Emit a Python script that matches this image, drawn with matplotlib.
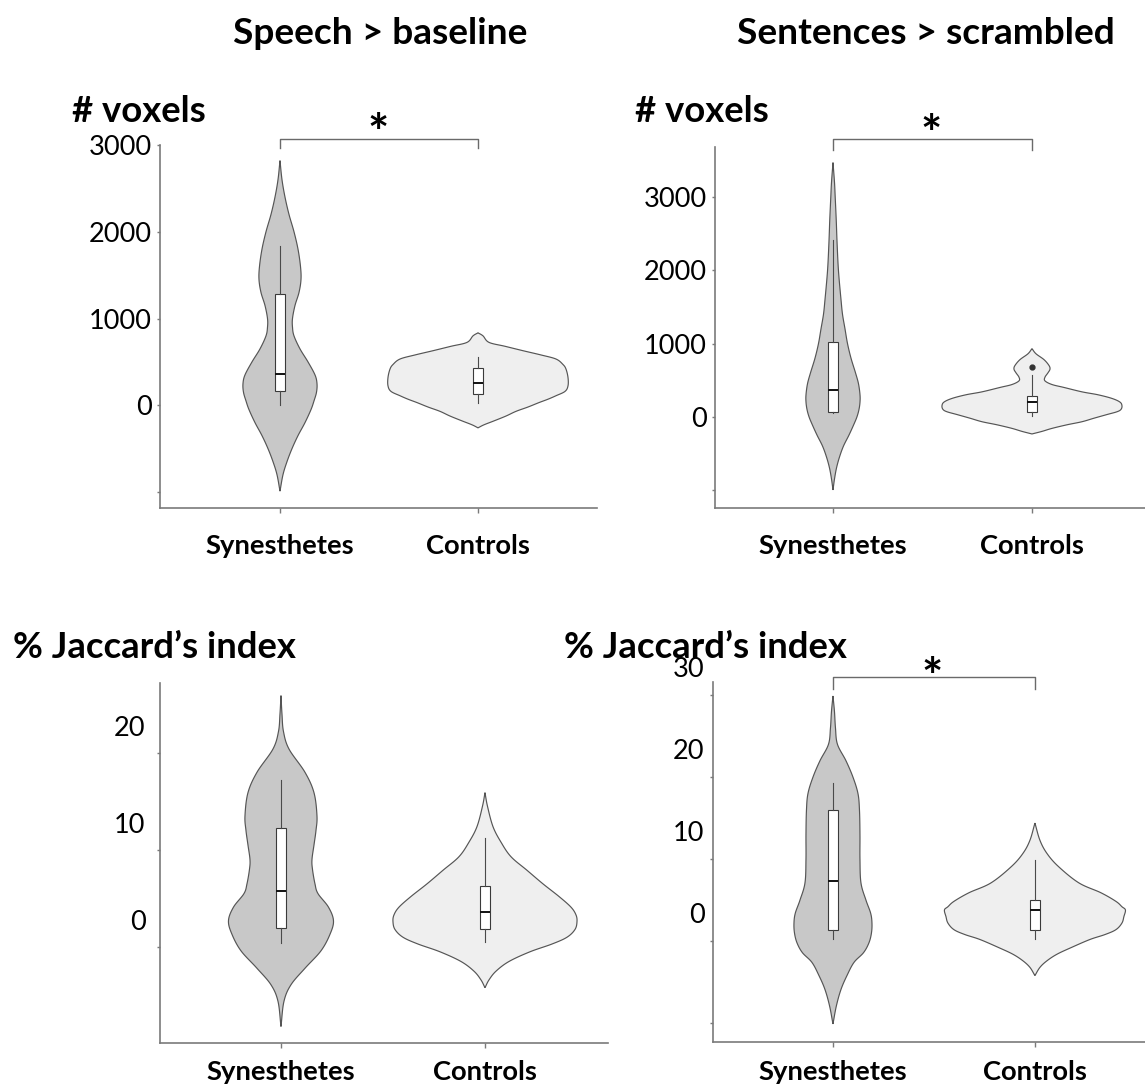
import numpy as np
import matplotlib
matplotlib.use("Agg")
import matplotlib.pyplot as plt
from matplotlib import transforms as mtrans

plt.rcParams['font.family'] = ['Lato', 'DejaVu Sans']

W, H, DPI = 1145, 1086, 100

# ---------------- data ----------------
categories = ["Synesthetes", "Controls"]
col_titles = ["Speech > baseline", "Sentences > scrambled"]
ylabels = ["# voxels", "# voxels", "% Jaccard\u2019s index", "% Jaccard\u2019s index"]

# violin outlines: value, half-width (px at ~200 px per category)
tl_syn_y = [2820, 2600, 2400, 2200, 2000, 1800, 1600, 1450, 1300, 1150, 1000, 900, 800, 650, 500, 350, 250, 150, 50, -50, -200, -350, -500, -650, -800, -990]
tl_syn_w = [0, 2, 5, 9, 14, 18, 20.5, 21, 19, 15, 12.5, 12.5, 14, 20, 28, 35, 37, 36.5, 34, 31, 25, 18, 12, 7, 3, 0]
tl_ctl_y = [835, 800, 725, 680, 629, 580, 533, 470, 417, 320, 224, 160, 110, 70, 31, -20, -70, -124, -180, -225, -260]
tl_ctl_w = [0, 5, 11, 27, 45, 63, 78, 85, 88, 90, 90, 87, 78, 70, 61, 50, 38, 28, 16, 6, 0]

tr_syn_y = [3470, 3200, 3000, 2700, 2400, 2100, 1900, 1600, 1400, 1200, 1000, 800, 600, 450, 300, 200, 100, 0, -100, -250, -400, -550, -700, -850, -1000]
tr_syn_w = [0, 1.5, 2.2, 3.2, 4, 5, 6, 8, 9.5, 12, 14.5, 18, 22.5, 25.5, 27, 27, 26, 24, 21, 16, 10.5, 6.5, 3.5, 1.5, 0]
tr_ctl_y = [930, 860, 780, 700, 650, 600, 540, 490, 440, 400, 340, 300, 250, 200, 150, 100, 68, 30, -20, -68, -110, -159, -200, -235]
tr_ctl_w = [0, 4, 12, 17, 18, 16, 13, 13, 20, 32, 50, 66, 80, 88, 90, 89, 85, 75, 62, 50, 35, 20, 10, 0]

bl_syn_y = [25.9, 24.0, 22.2, 20.4, 18.0, 15.9, 13.5, 12.0, 10.5, 9.0, 8.0, 6.5, 5.5, 4.1, 2.7, 1.3, -0.4, -2.2, -3.9, -5.6, -8.2]
bl_syn_w = [0, 1, 2.5, 8, 24, 33, 36, 35, 33, 31, 31.5, 34, 37, 47.5, 52.5, 49, 40, 24, 10, 3, 0]
bl_ctl_y = [15.9, 14.5, 12.4, 10.8, 9.3, 7.9, 6.5, 5.2, 4.1, 3.3, 2.6, 1.8, 1.0, 0.3, -0.5, -1.5, -2.5, -3.4, -4.2]
bl_ctl_w = [0, 2.5, 8, 16, 26, 42, 58, 74, 86, 91, 92, 90, 82, 67, 45, 24, 11, 4, 0]

br_syn_y = [29.9, 28.0, 26.0, 24.0, 22.0, 20.0, 18.0, 16.0, 13.0, 10.0, 7.1, 5.0, 3.4, 2.2, 1.0, -0.2, -1.4, -2.6, -4.2, -5.9, -7.9, -10.1]
br_syn_w = [0, 1.5, 2.5, 4.5, 13, 20, 25, 26.5, 27, 27, 28, 33, 37.7, 39, 38.5, 36, 30.6, 21, 14, 8, 3.4, 0]
br_ctl_y = [14.4, 12.3, 10.7, 9.1, 7.1, 5.9, 4.85, 4.2, 3.8, 3.0, 2.2, 1.4, 0.8, 0.2, -0.8, -1.6, -2.4, -3.2, -4.2]
br_ctl_w = [0, 5, 12, 23.5, 44, 66, 81, 87, 90.5, 89, 87, 81, 70, 55, 36, 22, 12, 5, 0]

# box plots: whisker low, q1, median, q3, whisker high
tl_syn_box = [0, 168, 365, 1285, 1833]
tl_ctl_box = [22, 135, 258, 435, 553]
tr_syn_box = [45, 62, 360, 1017, 2420]
tr_ctl_box = [9, 60, 200, 278, 568]
tr_ctl_outliers = [678]
bl_syn_box = [0.45, 2.0, 5.8, 12.3, 17.2]
bl_ctl_box = [0.55, 1.84, 3.65, 6.3, 11.2]
br_syn_box = [0.3, 1.4, 7.3, 16.0, 19.3]
br_ctl_box = [0.2, 1.3, 3.84, 5.05, 9.9]

voxel_ticks = [-1000, 0, 1000, 2000, 3000]
voxel_ticklabels = ["", "0", "1000", "2000", "3000"]
bl_ticks = [0, 10, 20]
bl_ticklabels = ["0", "10", "20"]
br_ticks = [-10, 0, 10, 20, 30]
br_ticklabels = ["", "0", "10", "20", "30"]
significant = [True, True, False, True]

# ---------------- layout (pixels) ----------------
def frac_rect(l, t, r, b):
    return [l / W, 1 - b / H, (r - l) / W, (b - t) / H]

panels = [
    dict(rect=(160, 145, 597, 508), ylim=(-1184, 3000), xlim=(0.394, 2.601), spacing=198,
         v=[(tl_syn_y, tl_syn_w), (tl_ctl_y, tl_ctl_w)], box=[tl_syn_box, tl_ctl_box], fl=[[], []],
         ticks=voxel_ticks, tlabels=voxel_ticklabels, lab_shift=0, pad=3.5,
         ylab_xy=(72, 122), xlab_base=554, brk=(139, 148), star=(378, 150)),
    dict(rect=(715, 147, 1145, 508), ylim=(-1246, 3683), xlim=(0.407, 2.568), spacing=199,
         v=[(tr_syn_y, tr_syn_w), (tr_ctl_y, tr_ctl_w)], box=[tr_syn_box, tr_ctl_box], fl=[[], tr_ctl_outliers],
         ticks=voxel_ticks, tlabels=voxel_ticklabels, lab_shift=0, pad=3.5,
         ylab_xy=(635, 122), xlab_base=554, brk=(139, 150), star=(931, 151)),
    dict(rect=(160, 683, 608, 1043), ylim=(-9.9, 27.2), xlim=(0.407, 2.603), spacing=204,
         v=[(bl_syn_y, bl_syn_w), (bl_ctl_y, bl_ctl_w)], box=[bl_syn_box, bl_ctl_box], fl=[[], []],
         ticks=bl_ticks, tlabels=bl_ticklabels, lab_shift=27, pad=8,
         ylab_xy=(13, 658), xlab_base=1080, brk=None, star=None),
    dict(rect=(713, 682, 1145, 1042), ylim=(-12.3, 31.6), xlim=(0.406, 2.545), spacing=202,
         v=[(br_syn_y, br_syn_w), (br_ctl_y, br_ctl_w)], box=[br_syn_box, br_ctl_box], fl=[[], []],
         ticks=br_ticks, tlabels=br_ticklabels, lab_shift=28, pad=3.5,
         ylab_xy=(564, 658), xlab_base=1080, brk=(677, 689), star=(932, 694)),
]

fills = ["#c8c8c8", "#efefef"]
EDGE = "#555555"
SPINE = "#7a7a7a"


def smooth_profile(y, w, n=16):
    P = np.column_stack([y, w]).astype(float)
    P = np.vstack([2 * P[0] - P[1], P, 2 * P[-1] - P[-2]])
    t = np.linspace(0, 1, n, endpoint=False)[:, None]
    segs = []
    for i in range(1, len(P) - 2):
        p0, p1, p2, p3 = P[i - 1], P[i], P[i + 1], P[i + 2]
        segs.append(0.5 * (2 * p1 + (-p0 + p2) * t + (2 * p0 - 5 * p1 + 4 * p2 - p3) * t ** 2
                           + (-p0 + 3 * p1 - 3 * p2 + p3) * t ** 3))
    segs.append(P[-2][None, :])
    out = np.vstack(segs)
    return out[:, 0], np.clip(out[:, 1], 0, None)


fig = plt.figure(figsize=(W / DPI, H / DPI), dpi=DPI)
fig.patch.set_facecolor("white")

texts_xlab, texts_ylab = [], []
for k, p in enumerate(panels):
    ax = fig.add_axes(frac_rect(*p["rect"]))
    ax.set_xlim(*p["xlim"])
    ax.set_ylim(*p["ylim"])
    for s in ("top", "right"):
        ax.spines[s].set_visible(False)
    for s in ("left", "bottom"):
        ax.spines[s].set_color(SPINE)
        ax.spines[s].set_linewidth(1.2)
    positions = [1, 2]
    for i, ((vy, vw), pos) in enumerate(zip(p["v"], positions)):
        ys, ws = smooth_profile(vy, vw)
        ws = ws / p["spacing"]
        ax.fill(np.concatenate([pos - ws, (pos + ws)[::-1]]), np.concatenate([ys, ys[::-1]]),
                facecolor=fills[i], edgecolor=EDGE, linewidth=0.85, zorder=2)
    stats = []
    for b, fl in zip(p["box"], p["fl"]):
        stats.append(dict(whislo=b[0], q1=b[1], med=b[2], q3=b[3], whishi=b[4], fliers=fl))
    ax.bxp(stats, positions=positions, widths=10.5 / p["spacing"], showcaps=False, patch_artist=True,
           boxprops=dict(facecolor="white", edgecolor="#3a3a3a", linewidth=0.8),
           medianprops=dict(color="#111111", linewidth=1.4),
           whiskerprops=dict(color="#4a4a4a", linewidth=0.8),
           flierprops=dict(marker="o", markersize=3.5, markerfacecolor="#333333", markeredgecolor="#333333"),
           zorder=3, manage_ticks=False)
    ax.set_xticks(positions)
    ax.set_xticklabels([])
    ax.tick_params(axis="x", length=3.5, width=1, color=SPINE)
    ax.set_yticks(p["ticks"])
    ax.set_yticklabels(p["tlabels"])
    ax.tick_params(axis="y", length=2.5, width=1, color=SPINE, labelsize=19.5, pad=p["pad"])
    if p["lab_shift"]:
        off = mtrans.ScaledTranslation(0, p["lab_shift"] / DPI, fig.dpi_scale_trans)
        for lbl in ax.get_yticklabels():
            lbl.set_transform(lbl.get_transform() + off)
    l, t, r, b = p["rect"]
    blend = mtrans.blended_transform_factory(ax.transData, ax.transAxes)
    yfrac = (b - p["xlab_base"]) / (b - t)
    for pos, cat in zip(positions, categories):
        texts_xlab.append(ax.text(pos, yfrac, cat, transform=blend, ha="center", va="baseline",
                                  fontweight="bold", fontsize=17, clip_on=False))
    texts_ylab.append(fig.text(p["ylab_xy"][0] / W, 1 - p["ylab_xy"][1] / H, ylabels[k],
                               ha="left", va="baseline", fontweight="bold", fontsize=24))
    if significant[k]:
        yb, yt = p["brk"]
        fb = (b - yb) / (b - t)
        ft = (b - yt) / (b - t)
        ax.plot([1, 1, 2, 2], [ft, fb, fb, ft], transform=blend, color="#6a6a6a",
                linewidth=1.0, clip_on=False)
        fig.text(p["star"][0] / W, 1 - p["star"][1] / H, "*", ha="center", va="baseline",
                 fontweight="bold", fontsize=36)

title_texts = [
    fig.text(380 / W, 1 - 44 / H, col_titles[0], ha="center", va="baseline", fontweight="bold", fontsize=24),
    fig.text(926 / W, 1 - 44 / H, col_titles[1], ha="center", va="baseline", fontweight="bold", fontsize=24),
]

# fit font sizes to the measured text widths of the reference
renderer = fig.canvas.get_renderer()

def fit(txts, ref, target):
    bb = ref.get_window_extent(renderer)
    size = ref.get_fontsize() * target / bb.width
    for t_ in txts:
        t_.set_fontsize(size)

fit(title_texts, title_texts[1], 378)
fit(texts_ylab, texts_ylab[2], 283)
fit(texts_xlab, texts_xlab[0], 149)

fig.savefig("out.png", dpi=DPI, facecolor="white")
